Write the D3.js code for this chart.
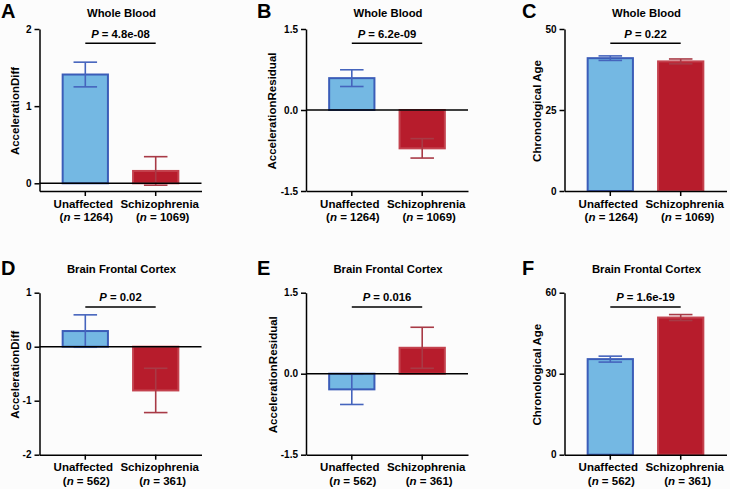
<!DOCTYPE html>
<html>
<head>
<meta charset="utf-8">
<script src="https://cdn.jsdelivr.net/npm/d3@7"></script>
<style>
  html, body { margin: 0; padding: 0; background: #fcfcfc; }
  svg { display: block; font-family: "Liberation Sans", Arial, sans-serif; font-weight: bold; }
</style>
</head>
<body>
<svg id="chart" width="730" height="489"></svg>
<script>
// ---------- data ----------
const panelLetters = ["A", "B", "C", "D", "E", "F"];
const tissues = ["Whole Blood", "Whole Blood", "Whole Blood",
                 "Brain Frontal Cortex", "Brain Frontal Cortex", "Brain Frontal Cortex"];
const measures = ["AccelerationDiff", "AccelerationResidual", "Chronological Age",
                  "AccelerationDiff", "AccelerationResidual", "Chronological Age"];
const groups = ["Unaffected", "Schizophrenia"];
const sampleSizes = [[1264, 1069], [1264, 1069], [1264, 1069], [562, 361], [562, 361], [562, 361]];
const meanValues = [[1.41, 0.16], [0.59, -0.71], [41.0, 40.0], [0.29, -0.81], [-0.29, 0.48], [35.4, 50.8]];
const semValues  = [[0.16, 0.185], [0.155, 0.18], [0.7, 0.75], [0.3, 0.41], [0.28, 0.38], [1.1, 1.1]];
const pValues = ["4.8e-08", "6.2e-09", "0.22", "0.02", "0.016", "1.6e-19"];
const yDomains = [[-0.1, 2], [-1.5, 1.5], [0, 50], [-2, 1], [-1.5, 1.5], [0, 60]];
const yTickValues = [[0, 1, 2], [-1.5, 0, 1.5], [0, 25, 50], [-2, -1, 0, 1], [-1.5, 0, 1.5], [0, 30, 60]];
const yTickLabels = [["0", "1", "2"], ["-1.5", "0.0", "1.5"], ["0", "25", "50"],
                     ["-2", "-1", "0", "1"], ["-1.5", "0.0", "1.5"], ["0", "30", "60"]];

// ---------- layout / style ----------
const colX = [39.5, 306, 564.5];
const rowTop = [29, 292.7];
const plotW = 162, plotH = 162;
const letterX = [1, 257, 522];
const letterY = [18, 275];
const titleY = [16.7, 273.3];
const yLabelOffset = [24.5, 34, 28, 24.5, 33.5, 28];
const fills = ["#74b8e3", "#b71c2c"];
const strokes = ["#3b5db8", "#c4424e"];
const errColors = ["#4564bd", "#a83a46"];

const svg = d3.select("#chart");

panelLetters.forEach((letter, i) => {
  const col = i % 3, row = Math.floor(i / 3);
  const x0 = colX[col], top = rowTop[row], bottom = top + plotH;
  const g = svg.append("g");

  const y = d3.scaleLinear().domain(yDomains[i]).range([bottom, top]);
  const x = d3.scaleBand().domain(groups).range([x0, x0 + plotW])
    .paddingInner(0.357).paddingOuter(0.329);
  const bw = x.bandwidth();
  const cx = gname => x(gname) + bw / 2;

  // panel letter
  g.append("text").attr("x", letterX[col]).attr("y", letterY[row])
    .attr("font-size", 20).attr("fill", "#000").text(letter);
  // title
  g.append("text").attr("x", x0 + plotW / 2 + 1).attr("y", titleY[row])
    .attr("text-anchor", "middle").attr("font-size", 11.3).text(tissues[i]);

  // bars
  groups.forEach((gr, j) => {
    const v = meanValues[i][j];
    g.append("rect")
      .attr("x", x(gr)).attr("width", bw)
      .attr("y", Math.min(y(v), y(0)))
      .attr("height", Math.abs(y(v) - y(0)))
      .attr("fill", fills[j]).attr("stroke", strokes[j]).attr("stroke-width", 2);
  });

  // error bars
  groups.forEach((gr, j) => {
    const v = meanValues[i][j], s = semValues[i][j];
    const c = cx(gr), capW = bw * 0.52;
    const eg = g.append("g").attr("stroke", errColors[j]).attr("stroke-width", 1.6);
    eg.append("line").attr("x1", c).attr("x2", c).attr("y1", y(v - s)).attr("y2", y(v + s));
    eg.append("line").attr("x1", c - capW / 2).attr("x2", c + capW / 2).attr("y1", y(v + s)).attr("y2", y(v + s));
    eg.append("line").attr("x1", c - capW / 2).attr("x2", c + capW / 2).attr("y1", y(v - s)).attr("y2", y(v - s));
  });

  // zero line
  if (yDomains[i][0] < 0) {
    g.append("line").attr("x1", x0).attr("x2", x0 + plotW)
      .attr("y1", y(0)).attr("y2", y(0)).attr("stroke", "#000").attr("stroke-width", 1.5);
  }

  // y axis
  const ya = g.append("g").attr("transform", `translate(${x0},0)`)
    .call(d3.axisLeft(y).tickValues(yTickValues[i])
      .tickFormat((d, k) => yTickLabels[i][k]).tickSize(5).tickSizeOuter(0).tickPadding(3));
  ya.selectAll("path, line").attr("stroke", "#000").attr("stroke-width", 1.5);
  ya.selectAll("text").attr("font-size", 10).attr("font-family", null).attr("fill", "#000");

  // x axis
  const xa = g.append("g").attr("transform", `translate(0,${bottom})`)
    .call(d3.axisBottom(x).tickSize(5).tickSizeOuter(0).tickFormat(""));
  xa.selectAll("path, line").attr("stroke", "#000").attr("stroke-width", 1.5);

  // x labels
  const lineOff = [[-2, 1], [4, 7]];
  groups.forEach((gr, j) => {
    g.append("text").attr("x", cx(gr) + lineOff[j][0]).attr("y", bottom + 16.6)
      .attr("text-anchor", "middle").attr("font-size", 11.5).text(gr);
    const t = g.append("text").attr("x", cx(gr) + lineOff[j][1]).attr("y", bottom + 29.8)
      .attr("text-anchor", "middle").attr("font-size", 11.5);
    t.append("tspan").attr("font-style", "normal").text("(");
    t.append("tspan").attr("font-style", "italic").text("n");
    t.append("tspan").attr("font-style", "normal").text(" = " + sampleSizes[i][j] + ")");
  });

  // y label
  const lx = x0 - yLabelOffset[i], ly = top + plotH / 2 + 1;
  g.append("text").attr("transform", `translate(${lx},${ly}) rotate(-90)`)
    .attr("text-anchor", "middle").attr("dominant-baseline", "central")
    .attr("font-size", 11.5).text(measures[i]);

  // p-value bracket
  const c0 = cx(groups[0]), c1 = cx(groups[1]);
  g.append("line").attr("x1", c0).attr("x2", c1)
    .attr("y1", top + 14.3).attr("y2", top + 14.3)
    .attr("stroke", "#000").attr("stroke-width", 1.5);
  const pt = g.append("text").attr("x", (c0 + c1) / 2).attr("y", top + 8.7)
    .attr("text-anchor", "middle").attr("font-size", 11.3);
  pt.append("tspan").attr("font-style", "italic").text("P");
  pt.append("tspan").attr("font-style", "normal").text(" = " + pValues[i]);
});
</script>
</body>
</html>
